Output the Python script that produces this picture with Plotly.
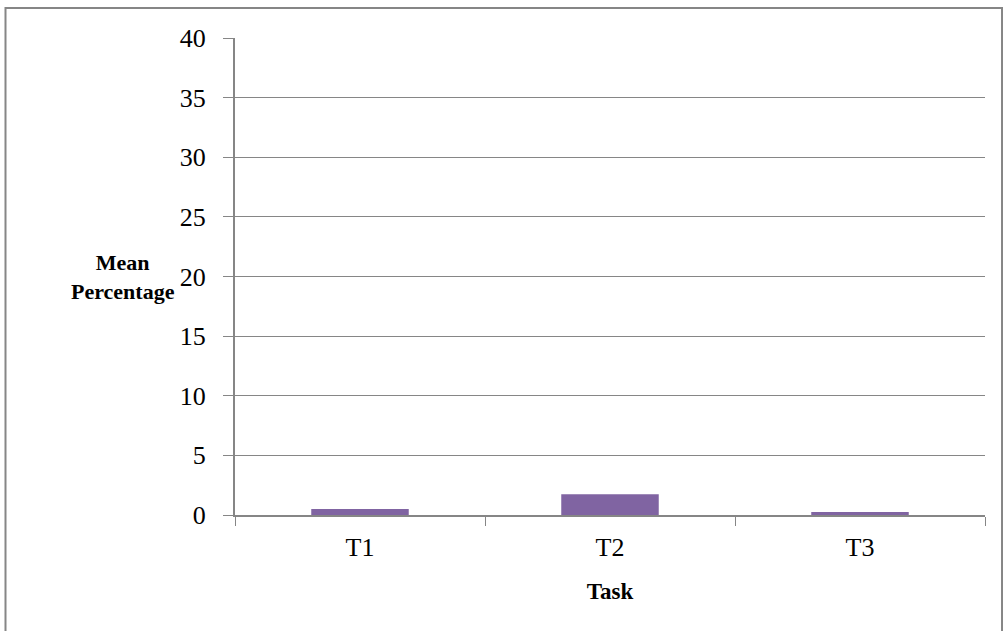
import plotly.graph_objects as go

# Mean percentage per task
tasks = ["T1", "T2", "T3"]
mean_pct = [0.5, 1.75, 0.25]

y_ticks = [0, 5, 10, 15, 20, 25, 30, 35, 40]

AXIS_GRAY = "#868686"
BAR_PURPLE = "#8064A2"

fig = go.Figure()
fig.add_trace(go.Bar(
    x=tasks,
    y=mean_pct,
    width=0.39,
    marker=dict(color=BAR_PURPLE, line=dict(width=0)),
))

fig.update_layout(
    width=1003,
    height=631,
    margin=dict(l=235, r=18, t=38, b=116),
    paper_bgcolor="white",
    plot_bgcolor="white",
    showlegend=False,
    font=dict(family="Liberation Serif", color="black"),
    xaxis=dict(
        type="category",
        tickson="boundaries",
        ticks="outside",
        ticklen=9,
        tickcolor=AXIS_GRAY,
        showline=True,
        linecolor=AXIS_GRAY,
        linewidth=2,
        showgrid=False,
        ticklabelstandoff=8,
        tickfont=dict(size=26, family="Liberation Serif"),
        title=dict(text="<b>Task</b>", font=dict(size=23, family="Liberation Serif"), standoff=22),
    ),
    yaxis=dict(
        range=[0, 40],
        tickvals=y_ticks,
        ticks="outside",
        ticklen=10,
        tickcolor=AXIS_GRAY,
        showline=True,
        linecolor=AXIS_GRAY,
        linewidth=2,
        showgrid=True,
        gridcolor=AXIS_GRAY,
        gridwidth=1,
        zeroline=False,
        ticklabelstandoff=12,
        tickfont=dict(size=26, family="Liberation Serif"),
    ),
    shapes=[
        # Outer chart frame
        dict(type="rect", xref="paper", yref="paper",
             x0=-0.306, x1=1.0227, y0=-0.3, y1=1.063,
             line=dict(color=AXIS_GRAY, width=2), fillcolor="rgba(0,0,0,0)", layer="below"),
    ],
    annotations=[
        dict(text="<b>Mean<br>Percentage</b>", xref="paper", yref="paper",
             x=-0.15, y=0.5, xanchor="center", yanchor="middle",
             showarrow=False, align="center",
             font=dict(size=22, family="Liberation Serif", color="black")),
    ],
)

fig.write_html("out.html")
